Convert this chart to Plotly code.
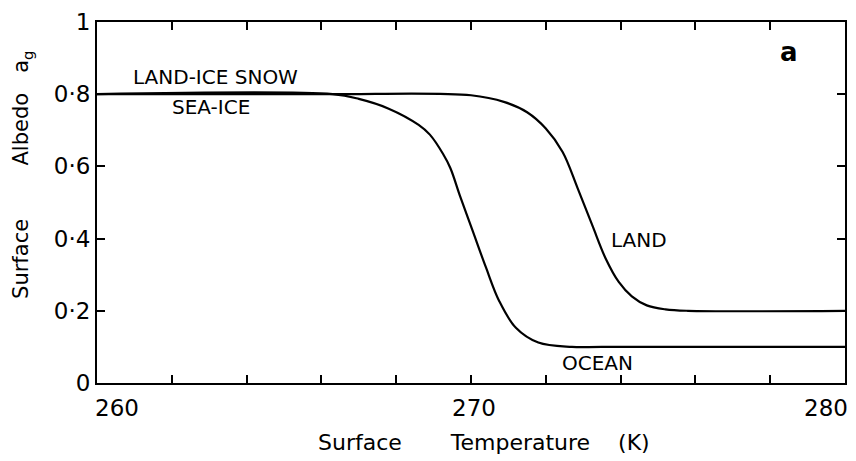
import plotly.graph_objects as go

# Surface temperature (K) and surface albedo readings
land_T = [260, 266, 270.0, 270.9, 271.5, 272.0, 272.45, 272.85, 273.25, 273.6, 273.95, 274.3, 274.7, 275.2, 275.8, 280]
land_A = [0.8, 0.8, 0.797, 0.778, 0.75, 0.705, 0.64, 0.54, 0.435, 0.345, 0.28, 0.24, 0.215, 0.204, 0.2, 0.2]

ocean_T = [260, 266.3, 267.0, 267.8, 268.6, 268.9, 269.25, 269.45, 269.7, 270.05, 270.4, 270.75, 271.2, 271.8, 272.7, 273.5, 280]
ocean_A = [0.8, 0.8, 0.787, 0.76, 0.715, 0.688, 0.635, 0.595, 0.52, 0.42, 0.32, 0.228, 0.153, 0.112, 0.1, 0.1, 0.1]

x_ticks = [260, 262, 264, 266, 268, 270, 272, 274, 276, 278, 280]
x_labels = {260: "260", 270: "270", 280: "280"}
y_ticks = [0, 0.2, 0.4, 0.6, 0.8, 1.0]
y_ticktext = ["0", "0·2", "0·4", "0·6", "0·8", "1"]

FONT = "DejaVu Sans"

fig = go.Figure()
for T, A in ((land_T, land_A), (ocean_T, ocean_A)):
    fig.add_trace(go.Scatter(x=T, y=A, mode="lines",
                             line=dict(color="black", width=2.2, shape="spline", smoothing=1.0),
                             showlegend=False, hoverinfo="skip"))

anns = [
    dict(x=263.17, y=0.8, text="LAND-ICE SNOW", yshift=17, font=dict(size=20)),
    dict(x=263.05, y=0.8, text="SEA-ICE", yshift=-13, font=dict(size=20)),
    dict(x=274.5, y=0.395, text="LAND", font=dict(size=20)),
    dict(x=273.38, y=0.1, text="OCEAN", yshift=-16, font=dict(size=20)),
    dict(x=278.5, y=0.918, text="<b>a</b>", font=dict(size=26)),
]
for a in anns:
    a.update(xref="x", yref="y", showarrow=False)
    a["font"].update(family=FONT, color="black")
    fig.add_annotation(**a)

# x tick labels (placed as in the original, 280 flush to the right edge)
for v, t in x_labels.items():
    anchor = "left" if v == 260 else ("right" if v == 280 else "center")
    shift = -4 if v == 260 else (5 if v == 280 else 3)
    fig.add_annotation(xref="x", yref="paper", x=v, y=-0.069, text=t, showarrow=False,
                       xanchor=anchor, yanchor="middle", xshift=shift,
                       font=dict(family=FONT, size=23, color="black"))

fig.add_annotation(xref="paper", yref="paper", x=0.2933, y=-0.166,
                   xanchor="left", yanchor="middle",
                   text="Surface       Temperature    (K)", showarrow=False,
                   font=dict(family=FONT, size=22, color="black"))
fig.add_annotation(xref="paper", yref="paper", x=-0.1, y=0.577, textangle=-90,
                   xanchor="center", yanchor="middle",
                   text="Surface        Albedo   a<sub>g</sub>", showarrow=False,
                   font=dict(family=FONT, size=21, color="black"))

fig.update_xaxes(range=[260, 280], tickvals=x_ticks, showticklabels=False,
                 ticks="inside", ticklen=8, tickwidth=2, tickcolor="black",
                 showline=True, linecolor="black", linewidth=2, mirror="ticks",
                 showgrid=False, zeroline=False)
fig.update_yaxes(range=[0, 1], tickvals=y_ticks, ticktext=y_ticktext,
                 ticks="inside", ticklen=8, tickwidth=2, tickcolor="black",
                 showline=True, linecolor="black", linewidth=2, mirror="ticks",
                 showgrid=False, zeroline=False,
                 tickfont=dict(family=FONT, size=23, color="black"))

fig.update_layout(width=856, height=461, paper_bgcolor="white", plot_bgcolor="white",
                  margin=dict(l=97, r=9, t=15, b=78),
                  font=dict(family=FONT, color="black"))

fig.write_html("out.html")
